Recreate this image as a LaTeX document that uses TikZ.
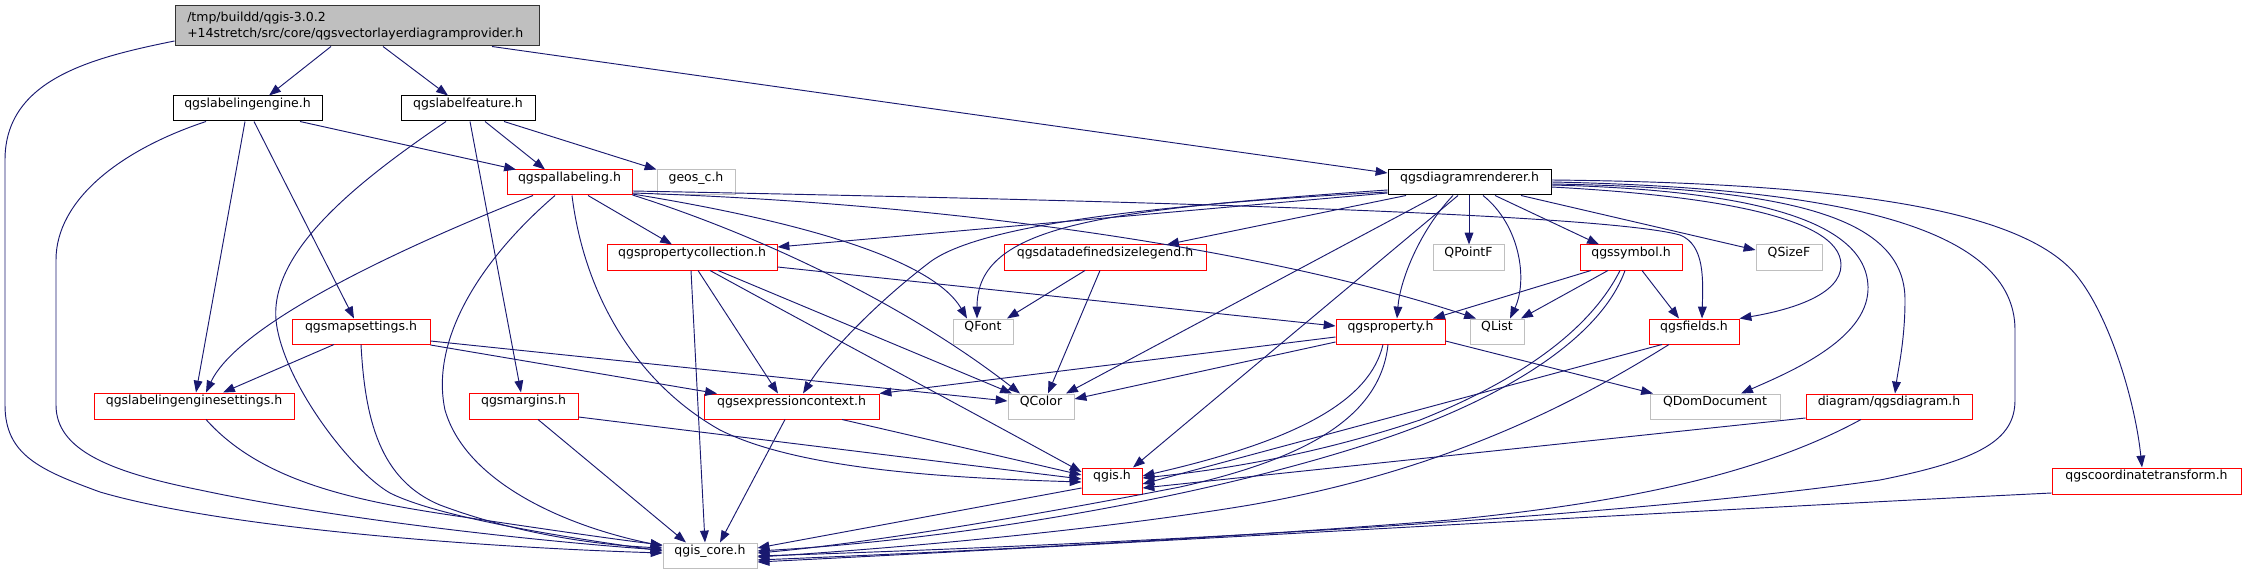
\documentclass[tikz,border=0pt]{standalone}
\usepackage{fontspec}
\setmainfont{DejaVu Sans}
\usetikzlibrary{fit,arrows.meta}
\definecolor{navy}{HTML}{191970}
\definecolor{grey75}{HTML}{BFBFBF}
\begin{document}
\begin{tikzpicture}[x=0.8pt,y=-0.8pt,
  nbox/.style={draw, line width=0.8pt, inner sep=0pt, fill=white, font=\fontsize{10}{12.8}\selectfont},
  bbox/.style={nbox, draw=black},
  rbox/.style={nbox, draw=red},
  gbox/.style={nbox, draw=grey75},
  rootbox/.style={nbox, draw=black!80, fill=grey75},
  roottext/.style={anchor=west, align=left, inner sep=0pt, font=\fontsize{10}{12.8}\selectfont},
  edge/.style={draw=navy, line width=0.75pt, -{Triangle[length=9.5pt,width=7pt]}}]
\useasboundingbox (0,0) rectangle (2246,575);
% nodes
\node[rootbox, fit={(175,6) (539,46)}] (root) {};
\node[roottext] (rootlabel) at (187,26) {/tmp/buildd/qgis-3.0.2\\+14stretch/src/core/qgsvectorlayerdiagramprovider.h};
\node[bbox, fit={(173,96) (322,121)}] (lengine) {qgslabelingengine.h};
\node[bbox, fit={(401,96) (535,121)}] (lfeature) {qgslabelfeature.h};
\node[rbox, fit={(507,170) (632,195)}] (pal) {qgspallabeling.h};
\node[gbox, fit={(657,170) (735,195)}] (geos) {geos\_c.h};
\node[bbox, fit={(1388,170) (1551,195)}] (drend) {qgsdiagramrenderer.h};
\node[rbox, fit={(607,245) (777,270)}] (pcoll) {qgspropertycollection.h};
\node[rbox, fit={(1004,245) (1206,270)}] (ddsl) {qgsdatadefinedsizelegend.h};
\node[gbox, fit={(1433,245) (1504,270)}] (qpointf) {QPointF};
\node[rbox, fit={(1580,245) (1682,270)}] (qsymbol) {qgssymbol.h};
\node[gbox, fit={(1756,245) (1822,270)}] (qsizef) {QSizeF};
\node[rbox, fit={(292,319) (430,344)}] (mapset) {qgsmapsettings.h};
\node[gbox, fit={(953,319) (1013,344)}] (qfont) {QFont};
\node[rbox, fit={(1336,319) (1445,344)}] (prop) {qgsproperty.h};
\node[gbox, fit={(1470,319) (1524,344)}] (qlist) {QList};
\node[rbox, fit={(1649,319) (1739,344)}] (fields) {qgsfields.h};
\node[rbox, fit={(94,393) (294,419)}] (lesettings) {qgslabelingenginesettings.h};
\node[rbox, fit={(469,393) (578,419)}] (margins) {qgsmargins.h};
\node[rbox, fit={(704,394) (879,419)}] (expctx) {qgsexpressioncontext.h};
\node[gbox, fit={(1008,394) (1074,419)}] (qcolor) {QColor};
\node[gbox, fit={(1650,394) (1780,419)}] (qdom) {QDomDocument};
\node[rbox, fit={(1806,394) (1972,419)}] (diagram) {diagram/qgsdiagram.h};
\node[rbox, fit={(1082,468) (1142,494)}] (qgis) {qgis.h};
\node[rbox, fit={(2052,468) (2241,494)}] (coordtr) {qgscoordinatetransform.h};
\node[gbox, fit={(663,543) (757,568)}] (core) {qgis\_core.h};
% root
\draw[edge] (root.west |- 0,41) .. controls (90,58) and (5,80) .. (5,160) -- (5,405) .. controls (5,455) and (40,470) .. (100,492) .. controls (230,530) and (500,548) .. (core.west |- 0,553);
\draw[edge] (root.south -| 331,0) -- (lengine.north -| 269,0);
\draw[edge] (root.south -| 383,0) -- (lfeature.north -| 448,0);
\draw[edge] (root.south -| 492,0) -- (drend.west |- 0,173);
% lengine
\draw[edge] (lengine.south -| 206,0) .. controls (120,150) and (56,200) .. (56,260) -- (56,405) .. controls (56,450) and (110,472) .. (200,490) .. controls (350,522) and (560,543) .. (core.west |- 0,550);
\draw[edge] (lengine.south -| 245,0) -- (lesettings.north -| 196,0);
\draw[edge] (lengine.south -| 254,0) -- (mapset.north -| 354,0);
\draw[edge] (lengine.south -| 300,0) -- (pal.north -| 516,0);
% lfeature
\draw[edge] (lfeature.south -| 446,0) .. controls (360,180) and (270,250) .. (276,320) .. controls (282,380) and (350,470) .. (390,493) .. controls (440,518) and (570,538) .. (core.west |- 0,551);
\draw[edge] (lfeature.south -| 470,0) -- (margins.north -| 521,0);
\draw[edge] (lfeature.south -| 485,0) -- (pal.north -| 545,0);
\draw[edge] (lfeature.south -| 504,0) -- (geos.north west);
% pal
\draw[edge] (pal.south -| 533,0) .. controls (420,240) and (240,320) .. (lesettings.north -| 206,0);
\draw[edge] (pal.south -| 555,0) .. controls (480,260) and (430,340) .. (445,410) .. controls (465,480) and (560,525) .. (core.west |- 0,546);
\draw[edge] (pal.south -| 572,0) .. controls (585,300) and (640,385) .. (720,430) .. controls (800,470) and (950,478) .. (qgis.west |- 0,482);
\draw[edge] (pal.south -| 588,0) -- (pcoll.north -| 672,0);
\draw[edge] (pal.east |- 0,194) .. controls (780,218) and (930,255) .. (qfont.north -| 967,0);
\draw[edge] (pal.east |- 0,195) .. controls (750,232) and (900,300) .. (qcolor.north -| 1020,0);
\draw[edge] (pal.east |- 0,193) .. controls (1000,205) and (1300,260) .. (qlist.north -| 1476,0);
\draw[edge] (pal.east |- 0,191) .. controls (1100,200) and (1600,213) .. (1680,235) .. controls (1705,245) and (1703,280) .. (fields.north -| 1702,0);
% drend
\draw[edge] (drend.west |- 0,193) -- (pcoll.east |- 0,247);
\draw[edge] (drend.south -| 1406,0) -- (ddsl.north -| 1167,0);
\draw[edge] (drend.west |- 0,190) .. controls (1100,210) and (977,225) .. (qfont.north -| 977,0);
\draw[edge] (drend.west |- 0,192) .. controls (1150,205) and (980,225) .. (930,262) .. controls (880,300) and (830,350) .. (expctx.north -| 803,0);
\draw[edge] (drend.south -| 1437,0) -- (qcolor.north -| 1066,0);
\draw[edge] (drend.south -| 1458,0) -- (qgis.north -| 1133,0);
\draw[edge] (drend.south -| 1453,0) .. controls (1420,230) and (1400,280) .. (prop.north -| 1397,0);
\draw[edge] (drend.south -| 1469,0) -- (qpointf.north -| 1469,0);
\draw[edge] (drend.south -| 1483,0) .. controls (1520,225) and (1528,280) .. (qlist.north -| 1510,0);
\draw[edge] (drend.south -| 1495,0) -- (qsymbol.north -| 1599,0);
\draw[edge] (drend.south -| 1521,0) -- (qsizef.west |- 0,250);
\draw[edge] (drend.east |- 0,187) .. controls (1700,195) and (1841,215) .. (1841,265) .. controls (1841,295) and (1790,310) .. (fields.north east);
\draw[edge] (drend.east |- 0,185) .. controls (1750,190) and (1870,220) .. (1868,290) .. controls (1866,340) and (1790,372) .. (qdom.north -| 1741,0);
\draw[edge] (drend.east |- 0,184) .. controls (1800,188) and (1905,220) .. (1905,300) .. controls (1905,340) and (1898,370) .. (diagram.north -| 1895,0);
\draw[edge] (drend.east |- 0,182) .. controls (1850,188) and (2015,230) .. (2015,330) -- (2015,400) .. controls (2015,440) and (1980,460) .. (1880,480) .. controls (1600,520) and (1100,545) .. (core.east |- 0,556);
\draw[edge] (drend.east |- 0,180) .. controls (1850,183) and (2030,210) .. (2080,280) .. controls (2110,320) and (2135,400) .. (coordtr.north -| 2142,0);
% pcoll
\draw[edge] (pcoll.south -| 691,0) -- (core.north -| 705,0);
\draw[edge] (pcoll.south -| 698,0) -- (expctx.north -| 778,0);
\draw[edge] (pcoll.south -| 710,0) .. controls (800,320) and (950,400) .. (qgis.west |- 0,472);
\draw[edge] (pcoll.south -| 718,0) -- (qcolor.north -| 1012,0);
\draw[edge] (pcoll.east |- 0,267) -- (prop.west |- 0,326);
% ddsl
\draw[edge] (ddsl.south -| 1085,0) -- (qfont.north -| 1007,0);
\draw[edge] (ddsl.south -| 1100,0) -- (qcolor.north -| 1048,0);
% mapset
\draw[edge] (mapset.south -| 334,0) -- (lesettings.north -| 223,0);
\draw[edge] (mapset.south -| 361,0) .. controls (365,420) and (380,480) .. (440,505) .. controls (520,535) and (600,545) .. (core.west |- 0,548);
\draw[edge] (mapset.east |- 0,345) -- (expctx.north -| 717,0);
\draw[edge] (mapset.east |- 0,341) -- (qcolor.west |- 0,401);
% margins
\draw[edge] (margins.east |- 0,417) -- (qgis.west |- 0,479);
\draw[edge] (margins.south -| 538,0) -- (core.north -| 686,0);
% lesettings
\draw[edge] (lesettings.south -| 206,0) .. controls (260,480) and (350,500) .. (450,515) .. controls (550,530) and (620,540) .. (core.west |- 0,545);
% expctx
\draw[edge] (expctx.south -| 842,0) -- (qgis.west |- 0,475);
\draw[edge] (expctx.south -| 785,0) -- (core.north -| 720,0);
% prop
\draw[edge] (prop.west |- 0,337) -- (expctx.north east);
\draw[edge] (prop.west |- 0,342) -- (qcolor.east |- 0,399);
\draw[edge] (prop.south -| 1383,0) .. controls (1370,400) and (1300,440) .. (qgis.east |- 0,476);
\draw[edge] (prop.south -| 1388,0) .. controls (1380,420) and (1300,460) .. (1180,487) .. controls (1000,522) and (850,545) .. (core.east |- 0,553);
\draw[edge] (prop.east |- 0,341) -- (qdom.north -| 1653,0);
% qsymbol
\draw[edge] (qsymbol.south -| 1591,0) -- (prop.north -| 1433,0);
\draw[edge] (qsymbol.south -| 1608,0) -- (qlist.north -| 1521,0);
\draw[edge] (qsymbol.south -| 1620,0) .. controls (1590,330) and (1520,380) .. (1420,420) .. controls (1300,460) and (1200,472) .. (qgis.east |- 0,478);
\draw[edge] (qsymbol.south -| 1625,0) .. controls (1600,340) and (1500,400) .. (1380,440) .. controls (1200,500) and (950,540) .. (core.east |- 0,551);
\draw[edge] (qsymbol.south -| 1642,0) -- (fields.north -| 1679,0);
% fields
\draw[edge] (fields.south -| 1662,0) -- (qgis.east |- 0,484);
\draw[edge] (fields.south -| 1669,0) .. controls (1580,400) and (1450,470) .. (1250,505) .. controls (1100,530) and (900,548) .. (core.east |- 0,557);
% diagram
\draw[edge] (diagram.west |- 0,418) -- (qgis.east |- 0,488);
\draw[edge] (diagram.south -| 1861,0) .. controls (1750,480) and (1600,505) .. (1450,520) .. controls (1200,540) and (950,552) .. (core.east |- 0,560);
% coordtr
\draw[edge] (coordtr.west |- 0,493) .. controls (1700,510) and (1100,545) .. (core.east |- 0,562);
% qgis
\draw[edge] (qgis.west |- 0,488) -- (core.east |- 0,548);
\end{tikzpicture}
\end{document}
